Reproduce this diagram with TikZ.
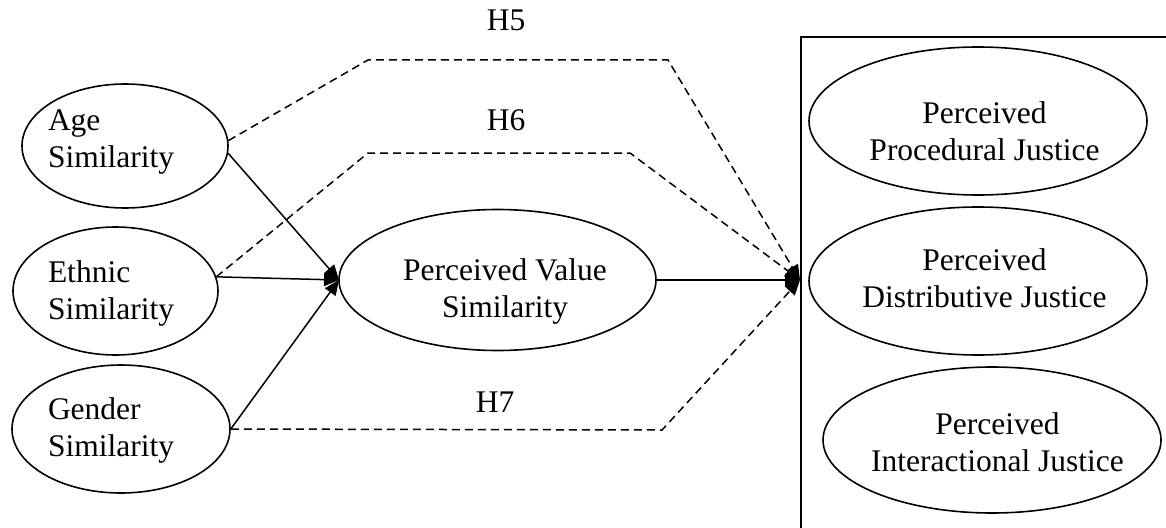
\documentclass[tikz,border=0pt]{standalone}
\usepackage{fontspec}
\setmainfont{Liberation Serif}
\usetikzlibrary{shapes.geometric,arrows.meta}
\begin{document}
\begin{tikzpicture}[x=1pt,y=-1pt,
  ell/.style={draw,ellipse,line width=1.6pt,inner sep=0pt},
  txt/.style={font=\fontsize{31.5}{37}\selectfont,inner sep=0pt},
  txtl/.style={txt,align=left},
  txtc/.style={txt,align=center},
  solidarrow/.style={line width=1.5pt,-{Triangle[length=15pt,width=13pt]}},
  dasharrow/.style={line width=1.5pt,dash pattern=on 8pt off 5pt,-{Triangle[length=15pt,width=13pt]}},
  frame/.style={line width=2.2pt}]
\useasboundingbox (0,0) rectangle (1166,527);
% left ellipses
\node[ell,minimum width=206pt,minimum height=124pt] (age) at (125,146) {};
\node[ell,minimum width=205pt,minimum height=128pt] (eth) at (115.5,291) {};
\node[ell,minimum width=218pt,minimum height=128pt] (gen) at (121,429) {};
\node[txtl] (ageT) at (111,142) {Age\\Similarity};
\node[txtl] (ethT) at (111,293) {Ethnic\\Similarity};
\node[txtl] (genT) at (111,430) {Gender\\Similarity};
% mediator
\node[ell,minimum width=317pt,minimum height=141pt] (pvs) at (497.5,280) {};
\node[txtc] (pvsT) at (505,291) {Perceived Value\\Similarity};
% frame
\node[draw,frame,minimum width=500pt,minimum height=600pt,anchor=north west] (box) at (800,36) {};
\coordinate (tgt) at (800,280);
% right ellipses
\node[ell,minimum width=338pt,minimum height=148pt] (proc) at (978,121) {};
\node[ell,minimum width=338pt,minimum height=148pt] (dist) at (978,281) {};
\node[ell,minimum width=338pt,minimum height=146pt] (inter) at (992,440) {};
\node[txtc] (procT) at (984.5,131) {Perceived\\Procedural Justice};
\node[txtc] (distT) at (984.5,278) {Perceived\\Distributive Justice};
\node[txtc] (interT) at (997.5,442) {Perceived\\Interactional Justice};
% solid arrows
\coordinate (pin) at (339,280);
\draw[solidarrow] (age.-4) -- (pin);
\draw[solidarrow] (eth.8) -- (pin);
\draw[solidarrow] (gen.0) -- (pin);
\draw[solidarrow] (pvs.east) -- (tgt);
% dashed hypotheses
\coordinate (h5a) at (368,60);
\coordinate (h5b) at (668,60);
\coordinate (h6a) at (368,153);
\coordinate (h6b) at (630,153);
\coordinate (h7a) at (662,430);
\draw[dasharrow] (age.3) -- (h5a) -- (h5b) -- (tgt);
\draw[dasharrow] (eth.8) -- (h6a) -- (h6b) -- (tgt);
\draw[dasharrow] (gen.0) -- (h7a) -- (tgt);
\node[txt] (H5) at (506,20) {H5};
\node[txt] (H6) at (506,120) {H6};
\node[txt] (H7) at (495,402) {H7};
\end{tikzpicture}
\end{document}
